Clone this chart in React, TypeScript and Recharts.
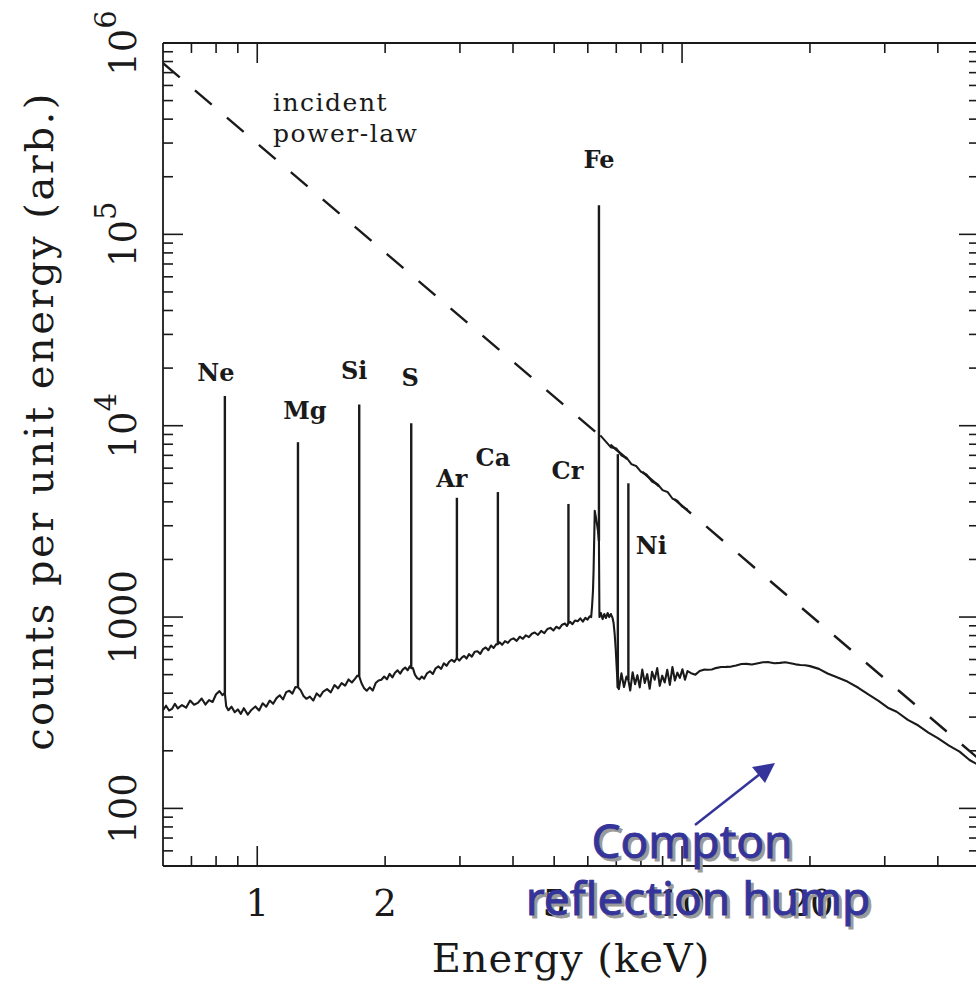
import React from 'react';
import { ComposedChart, Line, XAxis, YAxis } from 'recharts';

// continuum below the iron complex (keV, counts)
const lowE = [0.6, 0.61, 0.62, 0.63, 0.64, 0.65, 0.665, 0.68, 0.695, 0.71, 0.725, 0.74, 0.755, 0.77, 0.785, 0.8, 0.815, 0.828, 0.839, 0.845, 0.855, 0.87, 0.885, 0.9, 0.915, 0.93, 0.95, 0.97, 0.99, 1.01, 1.03, 1.05, 1.07, 1.09, 1.11, 1.13, 1.15, 1.17, 1.19, 1.21, 1.23, 1.247, 1.265, 1.285, 1.305, 1.33, 1.355, 1.38, 1.405, 1.43, 1.46, 1.49, 1.52, 1.55, 1.58, 1.61, 1.64, 1.67, 1.7, 1.72, 1.738, 1.76, 1.785, 1.81, 1.84, 1.87, 1.9, 1.93, 1.96, 1.99, 2.02, 2.05, 2.08, 2.11, 2.14, 2.17, 2.2, 2.23, 2.26, 2.285, 2.304, 2.325, 2.35, 2.38, 2.41, 2.44, 2.47, 2.51, 2.55, 2.59, 2.63, 2.67, 2.71, 2.75, 2.79, 2.83, 2.87, 2.91, 2.951, 2.99, 3.03, 3.07, 3.11, 3.15, 3.2, 3.25, 3.3, 3.35, 3.4, 3.45, 3.5, 3.55, 3.6, 3.65, 3.685, 3.72, 3.77, 3.83, 3.89, 3.95, 4.01, 4.08, 4.15, 4.22, 4.29, 4.36, 4.43, 4.5, 4.58, 4.66, 4.74, 4.82, 4.9, 4.98, 5.06, 5.14, 5.22, 5.3, 5.36, 5.402, 5.45, 5.52, 5.6, 5.68, 5.76, 5.84, 5.92, 5.99, 6.06];
const lowC = [
  326, 344, 325, 331, 352, 333, 347, 336, 366, 348, 356, 375, 349, 368, 360, 395,
  410, 391, 400, 342, 326, 340, 318, 329, 312, 334, 309, 328, 341, 325, 354, 340, 366, 352, 377, 390, 371, 405, 412, 398, 431, 430,
  415, 387, 374, 384, 366, 399, 384, 408, 420, 404, 441, 424, 452, 438, 472, 455, 477, 494, 490,
  451, 424, 412, 429, 413, 452, 466, 470, 489, 473, 505, 484, 511, 527, 506, 531, 545, 527, 552, 541,
  541, 500, 480, 472, 489, 476, 508, 521, 504, 540, 552, 536, 573, 556, 584, 598, 583, 610,
  592, 614, 626, 607, 640, 621, 659, 663, 642, 680, 693, 671, 710, 689, 720, 722,
  738, 716, 748, 733, 762, 774, 751, 789, 770, 803, 785, 818, 830, 806, 847, 823, 866, 878, 851, 890, 871, 912, 925, 898, 930,
  944, 918, 960, 951, 984, 946, 990, 970, 1008,
];

// shoulder, Fe K region and edge
const ironE = [6.11, 6.14, 6.17, 6.19, 6.21, 6.23, 6.26, 6.3, 6.34, 6.373, 6.39, 6.44, 6.5, 6.56, 6.62, 6.68, 6.74, 6.8, 6.86, 6.9, 6.94, 6.98, 7.02, 7.06, 7.08];
const ironC = [1000, 1142, 1368, 1741, 2500, 3589, 3380, 3107, 2818, 2500, 1000, 1050, 976, 1037, 989, 1050, 1000, 1037, 989, 930, 815, 680, 534, 427, 441];

// noisy band above the edge
const bandE = [7.1, 7.2, 7.3, 7.4, 7.475, 7.55, 7.65, 7.75, 7.85, 7.95, 8.06, 8.17, 8.28, 8.39, 8.5, 8.62, 8.74, 8.86, 8.98, 9.1, 9.23, 9.36, 9.49, 9.62, 9.75, 9.88, 10.02, 10.16, 10.3];
const bandC = [420, 508, 431, 489, 468, 413, 515, 446, 497, 429, 531, 452, 503, 422, 518, 470, 541, 437, 494, 455, 530, 442, 548, 466, 512, 481, 533, 470, 522];

// reflection hump
const humpE = [10.5, 10.75, 11.0, 11.25, 11.5, 11.75, 12.0, 12.35, 12.7, 13.05, 13.4, 13.8, 14.2, 14.6, 15.0, 15.5, 16.0, 16.5, 17.0, 17.5, 18.0, 18.5, 19.0, 19.5, 20.0, 21.0, 22.0, 23.0, 24.5, 26.0, 27.5, 29.0, 30.5, 32.0, 34.0, 36.0, 38.0, 40.0, 42.5, 45.0, 47.5, 50.0];
const humpC = [509, 500, 522, 531, 530, 532, 541, 548, 549, 551, 558, 568, 569, 565, 572, 580, 581, 574, 576, 580, 574, 566, 562, 560, 554, 536, 507, 487, 460, 427, 393, 365, 336, 320, 290, 271, 249, 233, 213, 198, 179, 168];

// incident power-law and the observed piece lying on it
const plE = [0.6, 50];
const plC = [785000, 181];
const olE = [6.42, 6.6, 6.8, 7.0, 7.2, 7.4, 7.6, 7.8, 8.0, 8.25, 8.5, 8.75, 9.0, 9.25, 9.5, 9.75, 10.0, 10.3];
const olC = [8900, 8300, 7700, 7600, 7000, 6800, 6300, 6150, 5750, 5550, 5100, 4950, 4600, 4500, 4150, 4050, 3780, 3640];

// emission lines
const lineNames = ['Ne', 'Mg', 'Si', 'S', 'Ar', 'Ca', 'Cr', 'Fe', '', 'Ni'];
const lineE = [0.839, 1.247, 1.738, 2.304, 2.951, 3.685, 5.402, 6.373, 7.06, 7.475];
const lineBase = [400, 430, 490, 541, 610, 722, 930, 2500, 427, 468];
const linePeak = [14300, 8200, 12900, 10300, 4200, 4500, 3900, 142000, 7100, 5000];
// label offset from the peak, px
const labelNudge = [[-9, -15], [7, -23], [-5, -26], [-1, -37], [-5, -11], [-5, -26], [-1, -25], [0, -37], [0, 0], [23, 71]];

const xTicks = [0.7, 0.8, 0.9, 1, 2, 3, 4, 5, 6, 7, 8, 9, 10, 20, 30, 40];
const xLabelled = [1, 2, 5, 10, 20];
const yTicks = [60, 70, 80, 90, 100, 200, 300, 400, 500, 600, 700, 800, 900, 1000, 2000, 3000, 4000, 5000, 6000, 7000, 8000, 9000, 10000, 20000, 30000, 40000, 50000, 60000, 70000, 80000, 90000, 100000, 200000, 300000, 400000, 500000, 600000, 700000, 800000, 900000, 1000000];
const yLabelText: Record<number, string[]> = { 100: ['100'], 1000: ['1000'], 10000: ['10', '4'], 100000: ['10', '5'], 1000000: ['10', '6'] };

const SERIF = '"DejaVu Serif", serif';
const INK = '#1a1a1a';
const BLUE = '#34349a';

const zip = (es: number[], cs: number[]) => es.map((e, i) => ({ e, c: cs[i] }));
const spectrum = [...zip(lowE, lowC), ...zip(ironE, ironC), ...zip(bandE, bandC), ...zip(humpE, humpC)];
const powerLaw = zip(plE, plC);
const overlap = zip(olE, olC);

const isDecade = (v: number) => {
  const l = Math.log10(v);
  return Math.abs(l - Math.round(l)) < 1e-6;
};

const BottomTick = (props: any) => {
  const { x, y, payload } = props;
  const v = payload.value;
  const len = isDecade(v) ? 20 : 10;
  return (
    <g>
      <line x1={x} x2={x} y1={y} y2={y - len} stroke={INK} strokeWidth={1.6} />
      {xLabelled.includes(v) && (
        <text x={x} y={y + 50} textAnchor="middle" fontFamily={SERIF} fontSize={37} fill={INK}>
          {v}
        </text>
      )}
    </g>
  );
};

const TopTick = (props: any) => {
  const { x, y, payload } = props;
  const len = isDecade(payload.value) ? 20 : 10;
  return <line x1={x} x2={x} y1={y} y2={y + len} stroke={INK} strokeWidth={1.6} />;
};

const LeftTick = (props: any) => {
  const { x, y, payload } = props;
  const v = payload.value;
  const len = isDecade(v) ? 20 : 10;
  const lab = yLabelText[v];
  return (
    <g>
      <line x1={x} x2={x + len} y1={y} y2={y} stroke={INK} strokeWidth={1.6} />
      {lab && (
        <text
          transform={`translate(${x - 27} ${y}) rotate(-90)`}
          textAnchor="middle"
          fontFamily={SERIF}
          fontSize={37}
          fill={INK}
        >
          {lab[0]}
          {lab[1] && (
            <tspan dy={-20} fontSize={29}>
              {lab[1]}
            </tspan>
          )}
        </text>
      )}
    </g>
  );
};

const RightTick = (props: any) => {
  const { x, y, payload } = props;
  const len = isDecade(payload.value) ? 20 : 10;
  return <line x1={x} x2={x - len} y1={y} y2={y} stroke={INK} strokeWidth={1.6} />;
};

const axisLine = { stroke: INK, strokeWidth: 1.8 };

export default function App() {
  return (
    <div style={{ position: 'absolute', left: 0, top: 0, width: 976, height: 981, overflow: 'hidden', background: '#fff' }}>
      <ComposedChart width={989} height={981} margin={{ top: 0, right: 0, bottom: 0, left: 0 }}>
        <XAxis xAxisId="b" orientation="bottom" dataKey="e" type="number" scale="log" domain={[0.6, 50]} allowDataOverflow
          ticks={xTicks} interval={0} tickSize={0} tickMargin={0} height={115} tick={BottomTick} tickLine={false} axisLine={axisLine} />
        <XAxis xAxisId="t" orientation="top" dataKey="e" type="number" scale="log" domain={[0.6, 50]} allowDataOverflow
          ticks={xTicks} interval={0} tickSize={0} tickMargin={0} height={43} tick={TopTick} tickLine={false} axisLine={axisLine} />
        <YAxis yAxisId="l" orientation="left" type="number" scale="log" domain={[50, 1000000]} allowDataOverflow
          ticks={yTicks} interval={0} tickSize={0} tickMargin={0} width={163} tick={LeftTick} tickLine={false} axisLine={axisLine} />
        <YAxis yAxisId="r" orientation="right" type="number" scale="log" domain={[50, 1000000]} allowDataOverflow
          ticks={yTicks} interval={0} tickSize={0} tickMargin={0} width={10} tick={RightTick} tickLine={false} axisLine={axisLine} />

        {/* keeps the mirror axes bound to a series */}
        <Line xAxisId="t" yAxisId="r" data={powerLaw} dataKey="c" stroke="none" dot={false} isAnimationActive={false} />

        <Line xAxisId="b" yAxisId="l" data={powerLaw} dataKey="c" type="linear" stroke={INK} strokeWidth={2.4}
          strokeDasharray="22 20" dot={false} isAnimationActive={false} />
        <Line xAxisId="b" yAxisId="l" data={overlap} dataKey="c" type="linear" stroke={INK} strokeWidth={2}
          dot={false} isAnimationActive={false} />
        <Line xAxisId="b" yAxisId="l" data={spectrum} dataKey="c" type="linear" stroke={INK} strokeWidth={2.1}
          strokeLinejoin="round" dot={false} isAnimationActive={false} />

        {lineE.map((e, i) => (
          <Line
            key={'ln' + i}
            xAxisId="b"
            yAxisId="l"
            data={[{ e, c: lineBase[i] }, { e, c: linePeak[i] }]}
            dataKey="c"
            type="linear"
            stroke={INK}
            strokeWidth={2.4}
            isAnimationActive={false}
            dot={(p: any) =>
              p.index === 1 && lineNames[i] ? (
                <text key={'lb' + i} x={p.cx + labelNudge[i][0]} y={p.cy + labelNudge[i][1]} textAnchor="middle"
                  fontFamily={SERIF} fontWeight="bold" fontSize={24} fill={INK}>
                  {lineNames[i]}
                </text>
              ) : (
                <g key={'lb' + i + '-' + p.index} />
              )
            }
          />
        ))}
      </ComposedChart>

      <svg width={976} height={981} style={{ position: 'absolute', left: 0, top: 0, pointerEvents: 'none' }}>
        <text transform="translate(53 421) rotate(-90)" textAnchor="middle" fontFamily={SERIF} fontSize={40}
          letterSpacing={2.5} fill={INK}>
          counts per unit energy (arb.)
        </text>
        <text x={571} y={972} textAnchor="middle" fontFamily={SERIF} fontSize={40} letterSpacing={1} fill={INK}>
          Energy (keV)
        </text>
        <text x={273} y={111} fontFamily={SERIF} fontSize={25} letterSpacing={1.5} fill={INK}>incident</text>
        <text x={273} y={142} fontFamily={SERIF} fontSize={25} letterSpacing={1.5} fill={INK}>power-law</text>

        <line x1={695} y1={825} x2={760} y2={774} stroke={BLUE} strokeWidth={2.5} />
        <polygon points="775,763 752,767 765,783" fill={BLUE} />
        <g fontFamily='"Comic Sans MS", "Noto Sans", sans-serif' fontSize={46} textAnchor="middle">
          <text x={695} y={861} fill="#9a9a9a" stroke="#9a9a9a" strokeWidth={0.9}>Compton</text>
          <text x={692} y={858} fill={BLUE} stroke={BLUE} strokeWidth={0.9}>Compton</text>
          <text x={701} y={918} fill="#9a9a9a" stroke="#9a9a9a" strokeWidth={0.9}>reflection hump</text>
          <text x={698} y={915} fill={BLUE} stroke={BLUE} strokeWidth={0.9}>reflection hump</text>
        </g>
      </svg>
    </div>
  );
}
